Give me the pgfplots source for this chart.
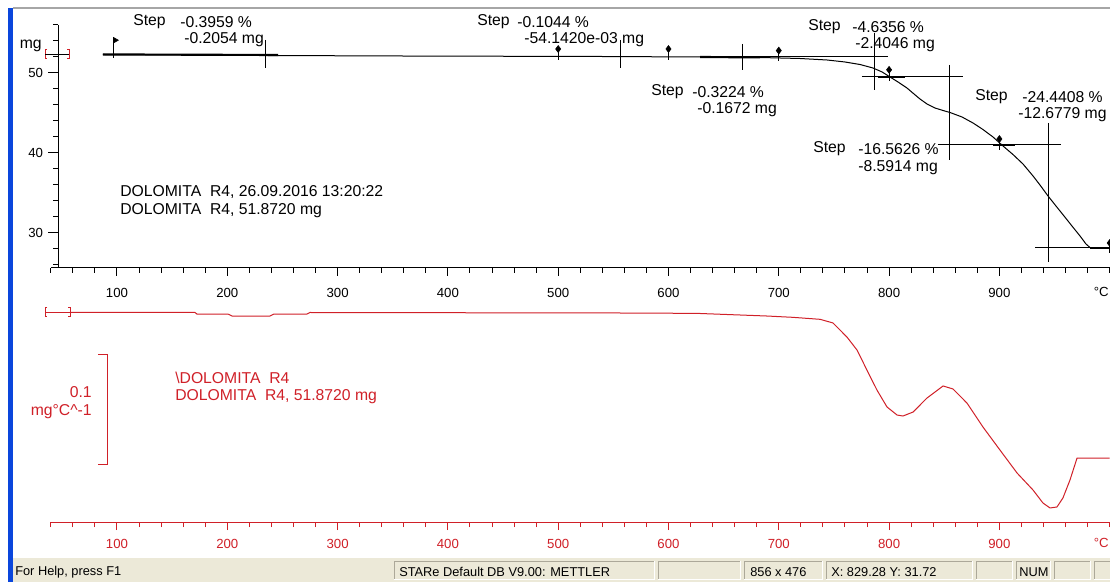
\documentclass[border=0pt]{standalone}
\usepackage{pgfplots}
\pgfplotsset{compat=1.18}
\usepackage{fontspec}
\setmainfont{Liberation Sans}
\definecolor{dtg}{RGB}{208,32,40}
\definecolor{xpgray}{RGB}{236,233,216}
\definecolor{panelline}{RGB}{172,168,153}
\definecolor{winblue}{RGB}{10,70,220}
\newcommand{\f}{\fontsize{9.9}{11}\selectfont}
\newcommand{\g}{\fontsize{11.8}{13}\selectfont}
\newcommand{\s}{\fontsize{9.6}{11}\selectfont}
\pgfplotsset{
  tgabase/.style={
    scale only axis, x=0.82725pt, enlargelimits=false, clip=false,
    axis line style={-, line width=0.75pt},
    every tick/.style={line width=0.75pt},
    tick align=outside,
    ticklabel style={font=\f, inner sep=0pt},
    /pgf/number format/assume math mode=true,
  }
}
\begin{document}
\begin{tikzpicture}
\useasboundingbox (0,0) rectangle (832.5pt,436.5pt);
\clip (0,0) rectangle (832.5pt,436.5pt);
\fill[white] (0,0) rectangle (832.5pt,436.5pt);

% ---------- TGA x axis and curve ----------
\begin{axis}[tgabase, at={(38.1pt,235.5pt)}, anchor=south west,
  y=6pt, xmin=40, xmax=1000, ymin=25.625, ymax=56,
  axis x line*=bottom, axis y line=none,
  xtick={100,200,...,900}, minor xtick={40,60,...,1000},
  major tick length=6pt, minor tick length=3.75pt,
  xticklabel style={anchor=north, yshift=-9pt},
  every tick/.style={black, line width=0.75pt}]
\addplot[black, line width=0.75pt] coordinates {
(87.3,52.313) (234.2,52.188) (356.6,52.125) (537.9,52.063) (628.6,52.0)
(683.0,51.938) (719.2,51.813) (743.7,51.625) (760.0,51.375) (773.6,51.063)
(785.4,50.625) (793.7,50.125) (800.8,49.5) (808.1,48.875) (816.2,48.125)
(822.6,47.375) (828.0,46.75) (834.4,46.125) (841.6,45.625) (848.9,45.313)
(855.2,45.063) (866.1,44.5) (876.1,43.75) (885.1,42.938) (894.2,42.0)
(903.3,40.875) (912.3,39.813) (921.4,38.625) (930.5,37.125) (936.8,36.0)
(944.1,34.625) (951.3,33.375) (958.6,32.125) (965.8,30.875) (973.1,29.625)
(978.5,28.625) (982.1,28.188) (986.7,28.063) (1000,28.063)};
% baselines / tangents (thick)
\addplot[black, line width=1.6pt] coordinates {(87.3,52.32) (246,52.25)};
\addplot[black, line width=1.6pt] coordinates {(628.6,52.0) (683,51.95)};
\addplot[black, line width=1.6pt] coordinates {(790,49.5) (814.4,49.5)};
\addplot[black, line width=1.6pt] coordinates {(894.2,41.0) (914.1,41.0)};
\addplot[black, line width=1.6pt] coordinates {(982,28.1) (1000,28.1)};
% thin horizontal tangents
\addplot[black, line width=0.75pt] coordinates {(667.5,52.0) (799,52.0)};
\addplot[black, line width=0.75pt] coordinates {(775.4,49.5) (867,49.5)};
\addplot[black, line width=0.75pt] coordinates {(844.3,41.0) (955.8,41.0)};
\addplot[black, line width=0.75pt] coordinates {(932.3,28.125) (1000,28.125)};
% vertical step lines
\addplot[black, line width=0.75pt] coordinates {(234.2,54.125) (234.2,50.625)};
\addplot[black, line width=0.75pt] coordinates {(556.9,54.125) (556.9,50.625)};
\addplot[black, line width=0.75pt] coordinates {(667.5,53.625) (667.5,50.375)};
\addplot[black, line width=0.75pt] coordinates {(787.2,55.0) (787.2,47.875)};
\addplot[black, line width=0.75pt] coordinates {(855.2,51.0) (855.2,39.125)};
\addplot[black, line width=0.75pt] coordinates {(944.1,43.75) (944.1,26.375)};
% evaluation markers: stems
\addplot[black, line width=0.75pt] coordinates {(96.4,54.5) (96.4,51.9)};
\addplot[black, line width=0.75pt] coordinates {(500,53.0) (500,51.6)};
\addplot[black, line width=0.75pt] coordinates {(600,53.0) (600,51.6)};
\addplot[black, line width=0.75pt] coordinates {(700,52.8) (700,51.5)};
\addplot[black, line width=0.75pt] coordinates {(800,50.4) (800,49.0)};
\addplot[black, line width=0.75pt] coordinates {(900,41.75) (900,40.4)};
\addplot[black, line width=0.75pt] coordinates {(1000,28.75) (1000,27.5)};
\addplot[only marks, mark=triangle*, mark size=2.2pt, mark options={rotate=-90, black}] coordinates {(98.6,54.1)};
\addplot[only marks, mark=diamond*, mark size=2.6pt, mark options={black}] coordinates {
(500,53.0) (600,53.0) (700,52.8) (800,50.4) (900,41.75) (1000,28.75)};
\end{axis}

% ---------- TGA y axis ----------
\begin{axis}[tgabase, at={(43.5pt,235.5pt)}, anchor=south west,
  y=6pt, xmin=46.5, xmax=1000, ymin=25.625, ymax=56,
  axis y line*=left, axis x line=none,
  ytick={30,40,50}, minor ytick={26,28,...,56},
  major tick length=7.5pt, minor tick length=3.75pt,
  yticklabel style={anchor=east, xshift=-3.5pt},
  every tick/.style={black, line width=0.75pt}]
\addplot[draw=none] coordinates {(500,40)};
\end{axis}

% ---------- DTG axis ----------
\begin{axis}[tgabase, at={(38.1pt,45pt)}, anchor=south west,
  y=825pt, xmin=40, xmax=1000, ymin=-0.190455, ymax=0.02,
  axis x line*=bottom, axis y line=none,
  axis line style={dtg},
  xtick={100,200,...,900}, minor xtick={40,60,...,1000},
  tick align=outside,
  major tick length=6pt, minor tick length=3.75pt,
  every tick/.style={dtg, line width=0.75pt},
  xticklabel style={anchor=north, yshift=-6.75pt, text=dtg}]
\addplot[dtg, line width=0.75pt] coordinates {
(57.4,0) (170.7,0) (172.5,-0.0014) (200.6,-0.0014) (204.3,-0.0032)
(238.7,-0.0032) (242.3,-0.0014) (272.3,-0.0014) (275,0) (583.2,-0.0005)
(628.6,-0.0009) (689.3,-0.0032) (712.9,-0.0044) (737.4,-0.0062) (749.1,-0.0095)
(761.8,-0.0223) (770.9,-0.0341) (779.9,-0.0523) (789.0,-0.0705) (798.1,-0.0859)
(807.2,-0.0932) (812.6,-0.0941) (821.7,-0.0905) (834.4,-0.0777) (848.9,-0.0668)
(857.9,-0.0695) (870.6,-0.0823) (885.1,-0.1041) (900.5,-0.1250) (916.0,-0.1459)
(930.5,-0.1614) (939.5,-0.1732) (945.9,-0.1777) (952.2,-0.1768) (957.6,-0.1686)
(964.0,-0.1523) (970.4,-0.1323) (1000,-0.1323)};
\end{axis}

% ---------- decorations in pixel units ----------
\begin{scope}[x=0.75pt, y=-0.75pt, shift={(0,436.5pt)}, font=\g]
  % window frame
  \fill[winblue] (8,8) rectangle (13,582);
  \draw[gray!70, line width=1.2pt] (13,8) -- (1110,8);
  % status bar
  \fill[xpgray] (13,557) rectangle (1110,582);
  \draw[white, line width=0.75pt] (13,557.5) -- (1110,557.5);
  \foreach \a/\b in {394/654, 658/740, 744/822, 826/972, 976/1012, 1016/1050, 1054/1090, 1094/1120}
    {\draw[panelline, line width=0.75pt] (\a,579) -- (\a,561) -- (\b,561);
     \draw[white, line width=0.75pt] (\b,561) -- (\b,579) -- (\a,579);}
  \begin{scope}[font=\s]
  \node[anchor=west, inner sep=0] at (15,572) {For Help, press F1};
  \node[anchor=west, inner sep=0] at (399,572) {STARe Default DB V9.00: METTLER};
  \node[anchor=west, inner sep=0] at (750,572) {856 x 476};
  \node[anchor=west, inner sep=0] at (831,572) {X: 829.28 Y: 31.72};
  \node[anchor=west, inner sep=0] at (1019,572) {NUM};
  \end{scope}

  % top axis labels
  \node[anchor=east, inner sep=0] at (42,46) {mg};
  \draw[dtg, line width=0.75pt] (47,50) -- (45,50) -- (45,59) -- (47,59);
  \draw[dtg, line width=0.75pt] (67,50) -- (69,50) -- (69,59) -- (67,59);
  \draw[black, line width=0.75pt] (45,54.5) -- (69,54.5);
  \node[anchor=east, inner sep=0, font=\f] at (1109,292) {°C};

  % step annotations
  \node[anchor=west, inner sep=0] at (133,22) {Step};
  \node[anchor=west, inner sep=0] at (180,22) {-0.3959 \%};
  \node[anchor=west, inner sep=0] at (184,40) {-0.2054 mg};
  \node[anchor=west, inner sep=0] at (477,22) {Step};
  \node[anchor=west, inner sep=0] at (517,22) {-0.1044 \%};
  \node[anchor=west, inner sep=0] at (524,40) {-54.1420e-03 mg};
  \node[anchor=west, inner sep=0] at (651,92) {Step};
  \node[anchor=west, inner sep=0] at (692,92) {-0.3224 \%};
  \node[anchor=west, inner sep=0] at (697,110) {-0.1672 mg};
  \node[anchor=west, inner sep=0] at (808,27) {Step};
  \node[anchor=west, inner sep=0] at (852,27) {-4.6356 \%};
  \node[anchor=west, inner sep=0] at (855,45) {-2.4046 mg};
  \node[anchor=west, inner sep=0] at (975,97) {Step};
  \node[anchor=west, inner sep=0] at (1022,97) {-24.4408 \%};
  \node[anchor=west, inner sep=0] at (1018,115) {-12.6779 mg};
  \node[anchor=west, inner sep=0] at (813,149) {Step};
  \node[anchor=west, inner sep=0] at (858,149) {-16.5626 \%};
  \node[anchor=west, inner sep=0] at (858,168) {-8.5914 mg};

  % sample info
  \node[anchor=west, inner sep=0] at (120,192) {DOLOMITA\ \ R4, 26.09.2016 13:20:22};
  \node[anchor=west, inner sep=0] at (120,211) {DOLOMITA\ \ R4, 51.8720 mg};

  % DTG decorations
  \draw[dtg, line width=0.75pt] (47,308) -- (45,308) -- (45,317) -- (47,317);
  \draw[dtg, line width=0.75pt] (68,308) -- (70,308) -- (70,317) -- (68,317);
  \draw[dtg, line width=0.75pt] (45,312.5) -- (70,312.5);
  \draw[dtg, line width=0.75pt] (98,355) -- (107,355) -- (107,465) -- (98,465);
  \node[anchor=east, inner sep=0, text=dtg] at (92,392) {0.1};
  \node[anchor=east, inner sep=0, text=dtg] at (92,412) {mg°C\^{}-1};
  \node[anchor=west, inner sep=0, text=dtg] at (175,378) {\textbackslash DOLOMITA\ \ R4};
  \node[anchor=west, inner sep=0, text=dtg] at (175,397) {DOLOMITA\ \ R4, 51.8720 mg};
  \node[anchor=east, inner sep=0, text=dtg, font=\f] at (1109,543) {°C};
\end{scope}
\end{tikzpicture}
\end{document}
